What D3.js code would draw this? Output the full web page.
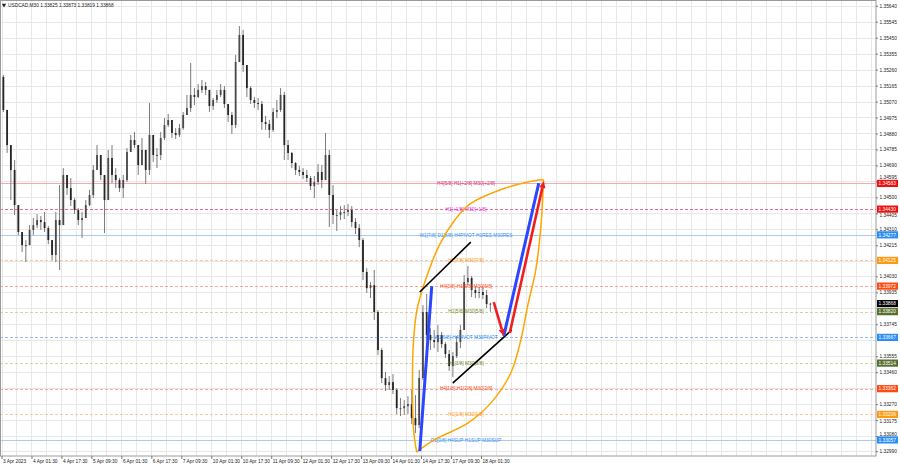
<!DOCTYPE html>
<html><head><meta charset="utf-8">
<script src="https://cdn.jsdelivr.net/npm/d3@7"></script>
<style>body{margin:0;background:#fff}svg{display:block;font-family:"Liberation Sans",Arial,sans-serif}</style>
</head><body><svg id="c" width="900" height="468"></svg>
<script>
// ---------- DATA ----------
const symbol = "USDCAD,M30";
const lastOHLC = [1.33825, 1.33873, 1.33819, 1.33868];
const timeLabels = ["3 Apr 2023","4 Apr 01:30","4 Apr 17:30","5 Apr 09:30","6 Apr 01:30","6 Apr 17:30","7 Apr 09:30","10 Apr 01:30","10 Apr 17:30","11 Apr 09:30","12 Apr 01:30","12 Apr 17:30","13 Apr 09:30","14 Apr 01:30","14 Apr 17:30","17 Apr 09:30","18 Apr 01:30"];
const barsPerLabel = 32;  // M30 bars between time labels
const barsPerCandle = 4;  // each drawn candle = 2 hours
const priceTicks = [1.35640,1.35545,1.35450,1.35355,1.35260,1.35165,1.35070,1.34975,1.34880,1.34785,1.34690,1.34595,1.34500,1.34405,1.34310,1.34215,1.34120,1.34030,1.33935,1.33840,1.33745,1.33650,1.33555,1.33460,1.33365,1.33270,1.33175,1.33080,1.32990];
const hiddenTicks = [1.34120,1.33840,1.33650,1.33365];
const firstOpen = 1.35216;
const highs = [1.35228,1.34990,1.34734,1.34722,1.34454,1.34294,1.34246,1.34335,1.34377,1.34401,
1.34389,1.34413,1.34329,1.34246,1.34413,1.34573,1.34674,1.34627,1.34615,1.34496,
1.34436,1.34413,1.34484,1.34544,1.34692,1.34811,1.34752,1.34603,1.34782,1.34811,
1.34674,1.34615,1.34633,1.34793,1.34871,1.34889,1.34811,1.34853,1.34782,1.35061,
1.34871,1.34793,1.34889,1.34972,1.34996,1.34960,1.34912,1.34936,1.35008,1.35109,
1.35299,1.35150,1.35174,1.35198,1.35186,1.35127,1.35091,1.35139,1.35174,1.35162,
1.35055,1.35008,1.35347,1.35519,1.35496,1.35287,1.35162,1.35097,1.35091,1.35073,
1.34984,1.34960,1.35031,1.35079,1.35150,1.35127,1.34841,1.34770,1.34710,1.34686,
1.34674,1.34663,1.34627,1.34627,1.34698,1.34692,1.34883,1.34782,1.34573,1.34425,
1.34448,1.34454,1.34460,1.34448,1.34377,1.34341,1.34258,1.34079,1.33996,1.34068,
1.33830,1.33603,1.33461,1.33437,1.33449,1.33365,1.33306,1.33294,1.33318,1.33354,
1.33324,1.33473,1.33859,1.33925,1.33722,1.33711,1.33740,1.33699,1.33639,1.33592,
1.33580,1.33675,1.33740,1.34038,1.34091,1.34032,1.33972,1.33966,1.33972,1.33949,
1.33873];
const lows = [1.35008,1.34764,1.34484,1.34395,1.34276,1.34175,1.34115,1.34216,1.34276,1.34317,
1.34306,1.34294,1.34222,1.34127,1.34115,1.34068,1.34454,1.34514,1.34448,1.34401,
1.34335,1.34258,1.34395,1.34448,1.34496,1.34663,1.34603,1.34288,1.34514,1.34585,
1.34555,1.34532,1.34496,1.34591,1.34782,1.34793,1.34633,1.34692,1.34579,1.34633,
1.34710,1.34674,1.34722,1.34841,1.34918,1.34853,1.34847,1.34859,1.34901,1.34990,
1.35008,1.35049,1.35091,1.35121,1.35109,1.35008,1.35020,1.35061,1.35097,1.35031,
1.34948,1.34877,1.34912,1.35317,1.35246,1.35097,1.35055,1.35031,1.35020,1.34901,
1.34901,1.34853,1.34889,1.34972,1.35008,1.34722,1.34722,1.34674,1.34633,1.34627,
1.34609,1.34591,1.34544,1.34496,1.34573,1.34555,1.34603,1.34323,1.34341,1.34300,
1.34365,1.34371,1.34389,1.34323,1.34282,1.34204,1.34008,1.33931,1.33901,1.33770,
1.33562,1.33395,1.33348,1.33354,1.33330,1.33211,1.33199,1.33205,1.33211,1.33151,
1.33098,1.33127,1.33413,1.33651,1.33592,1.33603,1.33580,1.33603,1.33544,1.33467,
1.33431,1.33544,1.33603,1.33711,1.33978,1.33907,1.33901,1.33901,1.33895,1.33841,
1.33819];
const closes = [1.35020,1.34811,1.34663,1.34454,1.34294,1.34216,1.34216,1.34306,1.34335,1.34365,
1.34353,1.34317,1.34246,1.34157,1.34365,1.34335,1.34633,1.34555,1.34484,1.34425,
1.34365,1.34377,1.34454,1.34514,1.34663,1.34752,1.34633,1.34484,1.34734,1.34633,
1.34603,1.34555,1.34603,1.34770,1.34841,1.34811,1.34692,1.34782,1.34663,1.34871,
1.34752,1.34752,1.34853,1.34930,1.34960,1.34883,1.34871,1.34912,1.34990,1.35031,
1.35109,1.35097,1.35139,1.35162,1.35139,1.35043,1.35079,1.35109,1.35139,1.35055,
1.34990,1.34930,1.35305,1.35466,1.35287,1.35150,1.35079,1.35061,1.35055,1.34948,
1.34936,1.34901,1.35008,1.35020,1.35109,1.34811,1.34764,1.34704,1.34663,1.34651,
1.34633,1.34615,1.34567,1.34591,1.34651,1.34603,1.34752,1.34514,1.34395,1.34395,
1.34413,1.34413,1.34425,1.34353,1.34317,1.34246,1.34056,1.33960,1.33978,1.33818,
1.33592,1.33425,1.33383,1.33401,1.33354,1.33246,1.33246,1.33258,1.33270,1.33187,
1.33145,1.33425,1.33818,1.33681,1.33651,1.33639,1.33681,1.33627,1.33568,1.33496,
1.33556,1.33639,1.33711,1.33996,1.34020,1.33949,1.33931,1.33937,1.33919,1.33865,
1.33868];
const levelPrices = [1.34583,1.34430,1.34277,1.34125,1.33972,1.33820,1.33667,1.33514,1.33362,1.33209,1.33057];
const levelNames = ["H4[5/8] H1[+2/8] M30[+2/8]","H1[+1/8] M30[+1/8]","W1[7/8] D1[8/8] H4PIVOT H1RES M30RES","H1[7/8] M30[7/8]","H4[3/8] H1[6/8] M30[6/8]","H1[5/8] M30[5/8]","W1[6/8] H4PIVOT M30PIVOT","H1[3/8] M30[3/8]","H4[1/8] H1[2/8] M30[2/8]","H1[1/8] M30[1/8]","D1[0/8] H4SUP H1SUP M30SUP"];
const lastPrice = 1.33868;
// analyst drawings: [bar index, price]
const orangeLeft = [[443.4,1.32985],[440.3,1.33098],[438.8,1.33395],[440.0,1.33651],[443.6,1.33830],[452.0,1.33996],[467.5,1.34216],[484.0,1.34365],[500.0,1.34460],[532.0,1.34544],[562.0,1.34591],[578.7,1.34606]];
const orangeRight = [[578.7,1.34606],[576.5,1.34365],[570.5,1.34068],[562.0,1.33859],[554.5,1.33651],[543.8,1.33455],[522.4,1.33276],[497.9,1.33157],[461.5,1.33056],[443.4,1.32985]];
const blueUp1 = [[446.6,1.32991],[459.4,1.33972]];
const blackLine1 = [[446.6,1.33937],[501.1,1.34234]];
const blackLine2 = [[481.8,1.33395],[544.9,1.33711]];
const redDown = [[525.6,1.33877],[536.3,1.33675]];
const blueUp2 = [[536.3,1.33675],[573.7,1.34585]];
const redUp = [[542.7,1.33693],[579.1,1.34597]];

// ---------- STYLES ----------
const levelStyle = [
 {line:"#f6a8b0",dash:null,text:"#d9307a",box:"#f01010"},
 {line:"#ee6a8e",dash:"3,2",text:"#e030d8",box:"#f01010"},
 {line:"#a9cdf2",dash:null,text:"#3a92ec",box:"#2a8ef5"},
 {line:"#f9c9a2",dash:"3,2",text:"#ff9a22",box:"#ff9a10"},
 {line:"#f7aa98",dash:"3,2",text:"#ff4a22",box:"#ff4a12"},
 {line:"#d3d4a8",dash:"3,2",text:"#6f8a2a",box:"#5a6e30"},
 {line:"#93bdf2",dash:"3,2",text:"#2a8ef5",box:"#2a8ef5"},
 {line:"#d3d4a8",dash:"3,2",text:"#6f8a2a",box:"#5a6e30"},
 {line:"#f7aa98",dash:"3,2",text:"#ff4a22",box:"#ff4a12"},
 {line:"#f9c9a2",dash:"3,2",text:"#ff9a22",box:"#ff9a10"},
 {line:"#a9cdf2",dash:null,text:"#3a92ec",box:"#2a8ef5"}
];

// ---------- CHART ----------
const svg = d3.select("#c");
const plotR = 876, plotB = 456, plotT = 0, plotL = 0;
const x = d3.scaleLinear().domain([0, barsPerLabel*16]).range([1.5, 481]);
const y = d3.scaleLinear().domain([1.32990, 1.35640]).range([451.2, 5.7]);
const fs = 4.8;

// grid
const maxBar = x.invert(plotR);
const vGrid = d3.range(0, maxBar, barsPerLabel/2);
svg.append("g").selectAll("line").data(vGrid).join("line")
  .attr("x1", d=>Math.round(x(d))+0.5).attr("x2", d=>Math.round(x(d))+0.5)
  .attr("y1", plotT).attr("y2", plotB).attr("stroke","#e8e8e8").attr("stroke-width",1);
svg.append("g").selectAll("line").data(priceTicks).join("line")
  .attr("x1", plotL).attr("x2", plotR)
  .attr("y1", d=>Math.round(y(d))+0.5).attr("y2", d=>Math.round(y(d))+0.5)
  .attr("stroke","#e8e8e8").attr("stroke-width",1);

// level lines
const lv = svg.append("g");
levelPrices.forEach((p,i)=>{
  const st = levelStyle[i];
  lv.append("line").attr("x1",plotL).attr("x2",plotR)
    .attr("y1",Math.round(y(p))+0.5).attr("y2",Math.round(y(p))+0.5)
    .attr("stroke",st.line).attr("stroke-width",1)
    .attr("stroke-dasharray",st.dash);
});

// candles
const candles = closes.map((c,i)=>{
  const o = i===0 ? firstOpen : closes[i-1];
  return {i, o, c, h: Math.max(highs[i],o,c), l: Math.min(lows[i],o,c)};
});
const cg = svg.append("g");
cg.selectAll("line").data(candles).join("line")
  .attr("x1", d=>x(d.i*barsPerCandle+2)).attr("x2", d=>x(d.i*barsPerCandle+2))
  .attr("y1", d=>y(d.h)).attr("y2", d=>y(d.l))
  .attr("stroke","#7a7a7a").attr("stroke-width",1);
cg.selectAll("rect").data(candles).join("rect")
  .attr("x", d=>x(d.i*barsPerCandle+2)-0.9).attr("width",1.8)
  .attr("y", d=>y(Math.max(d.o,d.c))).attr("height", d=>Math.max(1, Math.abs(y(d.o)-y(d.c))))
  .attr("fill", d=> d.c>=d.o ? "#4a4a4a" : "#262626");

// level labels
levelPrices.forEach((p,i)=>{
  svg.append("text").attr("x", x(496)).attr("y", y(p)).attr("dy","0.35em")
    .attr("text-anchor","middle").attr("font-size",fs).attr("fill",levelStyle[i].text)
    .text(levelNames[i]);
});

// analyst drawings
const line = d3.line().x(d=>x(d[0])).y(d=>y(d[1]));
const curve = d3.line().x(d=>x(d[0])).y(d=>y(d[1])).curve(d3.curveCatmullRom.alpha(0.5));
const dg = svg.append("g").attr("fill","none");
dg.append("path").attr("d",curve(orangeLeft)).attr("stroke","#ffa500").attr("stroke-width",1.5);
dg.append("path").attr("d",curve(orangeRight)).attr("stroke","#ffa500").attr("stroke-width",1.5);
dg.append("path").attr("d",line(blackLine1)).attr("stroke","#000").attr("stroke-width",1.6);
dg.append("path").attr("d",line(blackLine2)).attr("stroke","#000").attr("stroke-width",1.6);
dg.append("path").attr("d",line(blueUp1)).attr("stroke","#2a46ff").attr("stroke-width",3);
dg.append("path").attr("d",line(blueUp2)).attr("stroke","#2a46ff").attr("stroke-width",3);
function arrowLine(pts, color){
  const [a,b] = pts.map(d=>[x(d[0]),y(d[1])]);
  const ang = Math.atan2(b[1]-a[1], b[0]-a[0]);
  const L = 7, Wd = 3.2;
  const bx = b[0]-L*Math.cos(ang), by = b[1]-L*Math.sin(ang);
  dg.append("line").attr("x1",a[0]).attr("y1",a[1]).attr("x2",bx).attr("y2",by)
    .attr("stroke",color).attr("stroke-width",2.6);
  const p1=[bx+Wd*Math.sin(ang), by-Wd*Math.cos(ang)], p2=[bx-Wd*Math.sin(ang), by+Wd*Math.cos(ang)];
  dg.append("path").attr("d",`M${b[0]},${b[1]}L${p1[0]},${p1[1]}L${p2[0]},${p2[1]}Z`).attr("fill",color);
}
arrowLine(redDown, "#f01e1e");
arrowLine(redUp, "#f01e1e");

// frame
svg.append("rect").attr("x",0.5).attr("y",0.5).attr("width",plotR-0.5).attr("height",plotB-0.5)
  .attr("fill","none").attr("stroke","#9a9a9a").attr("stroke-width",1);

// right axis (labels hidden/moved where a price box sits, like the terminal does)
const boxPrices = levelPrices.concat([lastPrice]);
const shownTicks = priceTicks.filter(t=>!hiddenTicks.includes(t));
const ya = d3.axisRight(y).tickValues(shownTicks).tickFormat(d3.format(".5f")).tickSize(2).tickPadding(1.5);
const yag = svg.append("g").attr("transform",`translate(${plotR},0)`).call(ya);
yag.select(".domain").remove();
yag.selectAll("line").attr("stroke","#777");
yag.selectAll("text").attr("font-size",fs).attr("fill","#222").attr("font-family","Liberation Sans, Arial, sans-serif")
  .attr("transform", t=>{
    let shift = 0;
    boxPrices.forEach(b=>{
      const d = y(t) - y(b);
      if (Math.abs(d) < 6.2) shift = (d<0 ? -1 : 1)*(6.2-Math.abs(d));
    });
    return `translate(0,${shift})`;
  });

// bottom axis
const xa = d3.axisBottom(x).tickValues(timeLabels.map((d,i)=>i*barsPerLabel)).tickFormat((d,i)=>timeLabels[i]).tickSize(3).tickPadding(1);
const xag = svg.append("g").attr("transform",`translate(0,${plotB})`).call(xa);
xag.select(".domain").remove();
xag.selectAll("line").attr("stroke","#777");
xag.selectAll("text").attr("font-size",fs).attr("fill","#222").attr("text-anchor","start").attr("dx","1")
  .attr("font-family","Liberation Sans, Arial, sans-serif");

// price boxes
const boxes = levelPrices.map((p,i)=>({p, fill: levelStyle[i].box}));
boxes.push({p:lastPrice, fill:"#000"});
const bg = svg.append("g");
boxes.forEach(b=>{
  const cy = y(b.p);
  bg.append("rect").attr("x",plotR+1).attr("y",cy-3.6).attr("width",21).attr("height",7.2).attr("fill",b.fill);
  bg.append("text").attr("x",plotR+2.5).attr("y",cy).attr("dy","0.35em").attr("font-size",fs).attr("fill","#fff")
    .text(d3.format(".5f")(b.p));
});

// header
svg.append("path").attr("d",d3.symbol(d3.symbolTriangle,8)()).attr("transform","translate(4,5) rotate(180)").attr("fill","#222");
svg.append("text").attr("x",8).attr("y",5).attr("dy","0.35em").attr("font-size",fs).attr("fill","#222")
  .text(symbol + "  " + lastOHLC.map(d3.format(".5f")).join(" "));
</script></body></html>
